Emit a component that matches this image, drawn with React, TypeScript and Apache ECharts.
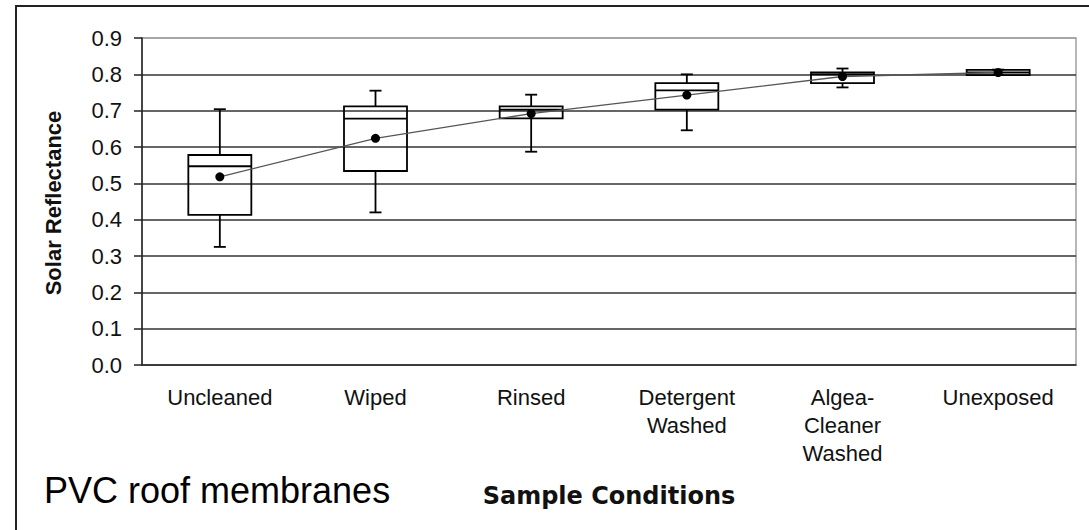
import React, { useEffect, useRef } from "react";
import * as echarts from "echarts";

const categories = ["Uncleaned", "Wiped", "Rinsed", "Detergent\nWashed", "Algea-\nCleaner\nWashed", "Unexposed"];
const whiskerLow = [0.325, 0.42, 0.587, 0.646, 0.764, 0.798];
const q1 = [0.413, 0.534, 0.679, 0.703, 0.776, 0.798];
const median = [0.547, 0.678, 0.703, 0.756, 0.8, 0.805];
const q3 = [0.578, 0.712, 0.712, 0.776, 0.805, 0.812];
const whiskerHigh = [0.704, 0.755, 0.744, 0.8, 0.816, 0.813];
const mean = [0.518, 0.624, 0.692, 0.743, 0.794, 0.805];
const yTicks = [0, 0.1, 0.2, 0.3, 0.4, 0.5, 0.6, 0.7, 0.8, 0.9];

const FONT = "'Liberation Sans', Arial, sans-serif";

export default function App() {
  const ref = useRef<HTMLDivElement>(null);
  useEffect(() => {
    if (!ref.current) return;
    const chart = echarts.init(ref.current, null, { renderer: "svg" });
    const boxData = categories.map((_, i) => [i, whiskerLow[i], q1[i], median[i], q3[i], whiskerHigh[i]]);
    const splitColors = yTicks.map((_, i) => (i === yTicks.length - 1 ? "#a0a0a0" : "#333"));
    chart.setOption({
      animation: false,
      grid: {
        left: 142,
        right: 13,
        top: 38,
        bottom: 165,
        show: true,
        borderColor: "#a0a0a0",
        borderWidth: 1.5,
        backgroundColor: "#fff",
      },
      xAxis: {
        type: "category",
        data: categories,
        boundaryGap: true,
        axisLine: { lineStyle: { color: "#333", width: 1.5 } },
        axisTick: { length: 6, lineStyle: { color: "#333", width: 1.5 } },
        axisLabel: {
          color: "#111",
          fontFamily: FONT,
          fontSize: 22,
          lineHeight: 28,
          margin: 18,
          interval: 0,
        },
      },
      yAxis: {
        type: "value",
        min: 0,
        max: 0.9,
        interval: 0.1,
        axisLine: { show: true, lineStyle: { color: "#222", width: 1.5 } },
        axisTick: { show: true, length: 8, lineStyle: { color: "#222", width: 1.5 } },
        axisLabel: {
          color: "#111",
          fontFamily: FONT,
          fontSize: 22,
          margin: 20,
          formatter: (v: number) => v.toFixed(1),
        },
        splitLine: { show: true, lineStyle: { color: splitColors, width: 1.5 } },
      },
      graphic: [
        {
          type: "rect",
          shape: { x: 16, y: 6, width: 1200, height: 700 },
          style: { fill: "none", stroke: "#222", lineWidth: 2 },
          silent: true,
          z: -10,
        },
        {
          type: "text",
          x: 53,
          y: 203,
          rotation: Math.PI / 2,
          style: {
            text: "Solar Reflectance",
            font: `bold 22px ${FONT}`,
            fill: "#111",
            textAlign: "center",
            textVerticalAlign: "middle",
          },
        },
        {
          type: "text",
          x: 609,
          y: 496,
          style: {
            text: "Sample Conditions",
            font: "bold 24px 'DejaVu Sans', Verdana, sans-serif",
            fill: "#111",
            textAlign: "center",
            textVerticalAlign: "middle",
          },
        },
        {
          type: "text",
          x: 44,
          y: 490,
          style: {
            text: "PVC roof membranes",
            font: `36px ${FONT}`,
            fill: "#000",
            textAlign: "left",
            textVerticalAlign: "middle",
          },
        },
      ],
      series: [
        {
          type: "custom",
          data: boxData,
          encode: { x: 0, y: [1, 2, 3, 4, 5] },
          z: 3,
          renderItem: (params: any, api: any) => {
            const i = api.value(0);
            const pLo = api.coord([i, api.value(1)]);
            const pQ1 = api.coord([i, api.value(2)]);
            const pMed = api.coord([i, api.value(3)]);
            const pQ3 = api.coord([i, api.value(4)]);
            const pHi = api.coord([i, api.value(5)]);
            const cx = pLo[0];
            const hw = 31.5;
            const cap = 6;
            const st = { stroke: "#000", lineWidth: 1.8, fill: "none" };
            return {
              type: "group",
              children: [
                { type: "line", shape: { x1: cx, y1: pLo[1], x2: cx, y2: pQ1[1] }, style: st },
                { type: "line", shape: { x1: cx, y1: pQ3[1], x2: cx, y2: pHi[1] }, style: st },
                { type: "line", shape: { x1: cx - cap, y1: pLo[1], x2: cx + cap, y2: pLo[1] }, style: st },
                { type: "line", shape: { x1: cx - cap, y1: pHi[1], x2: cx + cap, y2: pHi[1] }, style: st },
                {
                  type: "rect",
                  shape: { x: cx - hw, y: pQ3[1], width: hw * 2, height: pQ1[1] - pQ3[1] },
                  style: st,
                },
                { type: "line", shape: { x1: cx - hw, y1: pMed[1], x2: cx + hw, y2: pMed[1] }, style: st },
              ],
            };
          },
        },
        {
          type: "line",
          data: mean,
          z: 4,
          symbol: "circle",
          symbolSize: 9,
          itemStyle: { color: "#000" },
          lineStyle: { color: "#555", width: 1.3 },
        },
      ],
    });
    return () => chart.dispose();
  }, []);
  return (
    <div
      ref={ref}
      style={{ position: "fixed", left: 0, top: 0, width: 1089, height: 530, background: "#fff" }}
    />
  );
}
